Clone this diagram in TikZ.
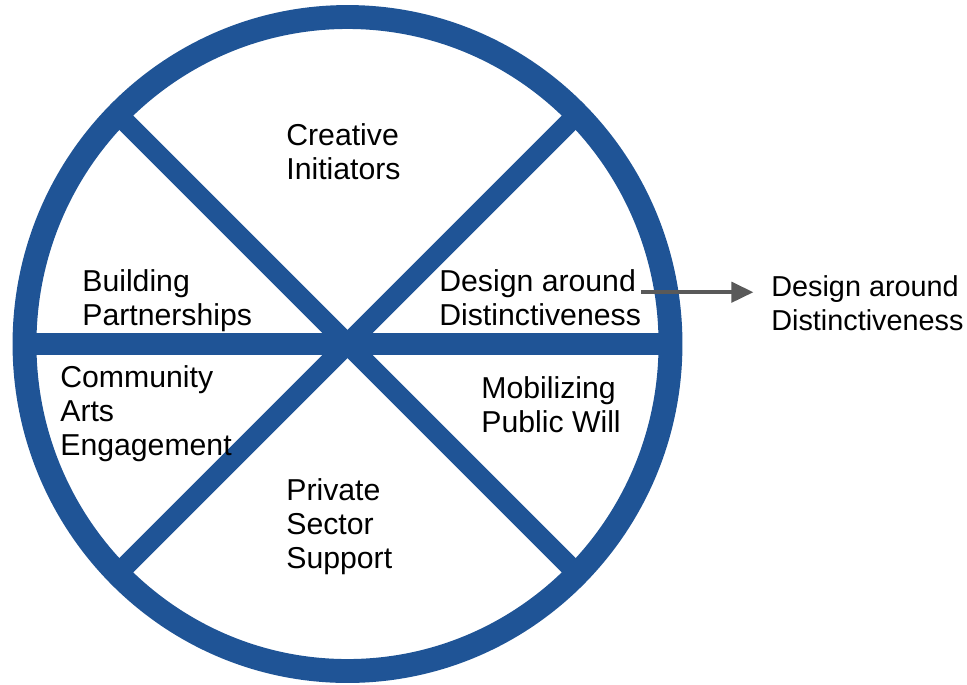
\documentclass[tikz,border=0pt]{standalone}
\usepackage{fontspec}
\setmainfont{Liberation Sans}
\usetikzlibrary{arrows.meta}
\definecolor{ringblue}{RGB}{31,84,150}
\definecolor{arrgray}{RGB}{89,89,89}
\tikzset{
  lbl/.style={anchor=north west, inner sep=0pt, align=left,
    font=\fontsize{17.2pt}{19.4pt}\selectfont},
  arr/.style={draw=arrgray, line width=2.3pt,
    -{Triangle[length=12.5pt, width=11.4pt]}}
}
\begin{document}
\begin{tikzpicture}[x=0.02cm, y=-0.02cm]
\useasboundingbox (0,0) rectangle (967,684);
\begin{scope}
\clip (347.5,344) ellipse (330 and 334);
\foreach \a in {45,135}
{
    \draw[ringblue, line width=11.4pt] (347.5,344) ++(\a:-400) -- ++(\a:800);
}
\draw[ringblue, line width=12pt] (0,344) -- (700,344);
\end{scope}
\draw[ringblue, line width=13.6pt] (347.5,344) ellipse (323 and 327);
\node[lbl] (creat) at (286,123) {Creative\\Initiators};
\node[lbl] (build) at (82,269) {Building\\Partnerships};
\node[lbl] (dsgnin) at (439,269) {Design around\\Distinctiveness};
\node[lbl] (commu) at (60,365) {Community\\Arts\\Engagement};
\node[lbl] (mobil) at (481,376) {Mobilizing\\Public Will};
\node[lbl] (priv) at (286,478) {Private\\Sector\\Support};
\node[lbl, font=\fontsize{16.4pt}{19.4pt}\selectfont] (dsgnout) at (771,275) {Design around\\Distinctiveness};
\draw[arr, shorten >=10pt] ([yshift=3pt]dsgnin.east) -- ([yshift=3pt]dsgnin.east -| dsgnout.west);
\end{tikzpicture}
\end{document}
